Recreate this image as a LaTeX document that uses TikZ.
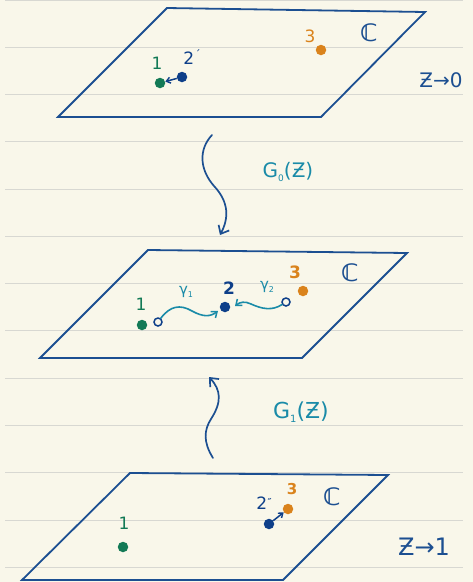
\documentclass[tikz,border=0pt]{standalone}
\usepackage{amssymb}
\usepackage{fontspec}
\setmainfont{DejaVu Sans}
\usetikzlibrary{arrows.meta}
\definecolor{paper}{HTML}{F9F7EA}
\definecolor{rule}{HTML}{D8D8D2}
\definecolor{planeblue}{HTML}{1C4F91}
\definecolor{dotblue}{HTML}{0E3F89}
\definecolor{dotgreen}{HTML}{137A56}
\definecolor{dotorange}{HTML}{DA831C}
\definecolor{teal}{HTML}{1A8BA8}
\tikzset{
  plane/.style={draw=planeblue, line width=1.8pt, line join=miter},
  dot/.style={circle, inner sep=0pt, minimum size=10.5pt},
  hole/.style={circle, draw=dotblue, fill=paper, line width=1.5pt, inner sep=0pt, minimum size=8pt},
  lbl/.style={inner sep=0pt, font=\fontsize{17}{20}\selectfont},
  cset/.style={inner sep=0pt, text=planeblue, font=\fontsize{24}{24}\selectfont\bfseries},
  bigarrow/.style={draw=planeblue, line width=1.7pt, line cap=round, -{Straight Barb[length=7pt,width=12pt,line width=1.7pt]}},
  smallarrow/.style={line width=1.5pt, -{Straight Barb[length=4pt,width=6pt,line width=1.4pt]}},
  gammaarrow/.style={draw=teal, line width=1.6pt, line cap=round, -{Straight Barb[length=5pt,width=8pt,line width=1.5pt]}}
}
\begin{document}
\begin{tikzpicture}[x=1pt,y=-1pt]
\useasboundingbox (0,0) rectangle (473,582);
\fill[paper] (0,0) rectangle (473,582);
\foreach \yy in {0.5,47,94.3,141.6,188.9,236.2,283.5,330.8,378.1,425.4,472.7,520,567.3}
  \draw[rule, line width=0.8pt] (5,\yy) -- (463,\yy);

% ---------- top plane ----------
\draw[plane] (167,8) -- (425,12) -- (321,117) -- (58,117) -- cycle;
\node[dot, fill=dotgreen] (a1) at (160,83) {};
\node[dot, fill=dotblue] (a2) at (182,77) {};
\node[dot, fill=dotorange] (a3) at (321,50) {};
\node[lbl, text=dotgreen] (la1) at (157,63) {1};
\node[lbl, text=dotblue] (la2) at (192,57) {2\kern1pt\raisebox{6pt}{\fontsize{11}{11}\selectfont ´}};
\node[lbl, text=dotorange] (la3) at (310,36) {3};
\node[cset] (Ca) at (369,33) {ℂ};
\node[lbl, text=planeblue, font=\fontsize{20}{20}\selectfont] (za) at (441,80) {Ƶ→0};
\draw[smallarrow, dotblue] (a2) -- (a1);

% ---------- G0 arrow ----------
\coordinate (g0s) at (212,135);
\coordinate (g0e) at (220,235);
\draw[bigarrow] (g0s) .. controls (198,150) and (200,170) .. (214,186)
  .. controls (229,202) and (229,218) .. (g0e);
\node[lbl, text=teal, font=\fontsize{20}{20}\selectfont] (G0) at (288,172) {G\raisebox{-4pt}{\fontsize{9}{9}\selectfont 0}(Ƶ)};

% ---------- middle plane ----------
\draw[plane] (148,250) -- (407,253) -- (302,358) -- (40,358) -- cycle;
\node[dot, fill=dotgreen] (b1) at (142,325) {};
\node[hole] (h1) at (158,322) {};
\node[dot, fill=dotblue] (b2) at (225,307) {};
\node[hole] (h2) at (286,302) {};
\node[dot, fill=dotorange] (b3) at (303,291) {};
\node[lbl, text=dotgreen] (lb1) at (141,304) {1};
\node[lbl, text=dotblue, font=\fontsize{17}{20}\selectfont\bfseries] (lb2) at (229,288) {2};
\node[lbl, text=dotorange, font=\fontsize{17}{20}\selectfont\bfseries] (lb3) at (295,272) {3};
\node[cset] (Cb) at (350,273) {ℂ};
\node[lbl, text=teal, font=\fontsize{15}{18}\selectfont] (gam1) at (186,292) {γ\raisebox{-3pt}{\fontsize{8}{8}\selectfont 1}};
\node[lbl, text=teal, font=\fontsize{15}{18}\selectfont] (gam2) at (267,287) {γ\raisebox{-3pt}{\fontsize{8}{8}\selectfont 2}};
\draw[gammaarrow] (h1) .. controls (170,306) and (180,304) .. (192,311)
  .. controls (203,317) and (210,317) .. (218,311);
\draw[gammaarrow] (h2) .. controls (272,311) and (262,309) .. (251,304)
  .. controls (245,301) and (240,302) .. (235,306);

% ---------- G1 arrow ----------
\coordinate (g1s) at (213,458);
\coordinate (g1e) at (209,377);
\draw[bigarrow] (g1s) .. controls (203,442) and (204,430) .. (211,419)
  .. controls (222,402) and (221,390) .. (g1e);
\node[lbl, text=teal, font=\fontsize{22}{22}\selectfont] (G1) at (301,412) {G\raisebox{-4pt}{\fontsize{10}{10}\selectfont 1}(Ƶ)};

% ---------- bottom plane ----------
\draw[plane] (130,473) -- (388,475) -- (283,580) -- (22,580) -- cycle;
\node[dot, fill=dotgreen] (c1) at (123,547) {};
\node[dot, fill=dotblue] (c2) at (269,524) {};
\node[dot, fill=dotorange] (c3) at (288,509) {};
\node[lbl, text=dotgreen] (lc1) at (124,523) {1};
\node[lbl, text=dotblue] (lc2) at (264,503) {2\kern0.5pt\raisebox{3pt}{\fontsize{11}{11}\selectfont ″}};
\node[lbl, text=dotorange, font=\fontsize{15}{16}\selectfont\bfseries] (lc3) at (292,489) {3};
\node[cset] (Cc) at (332,497) {ℂ};
\node[lbl, text=planeblue, font=\fontsize{24}{24}\selectfont] (zc) at (424,547) {Ƶ→1};
\draw[smallarrow, dotblue] (c2) -- (c3);
\end{tikzpicture}
\end{document}
